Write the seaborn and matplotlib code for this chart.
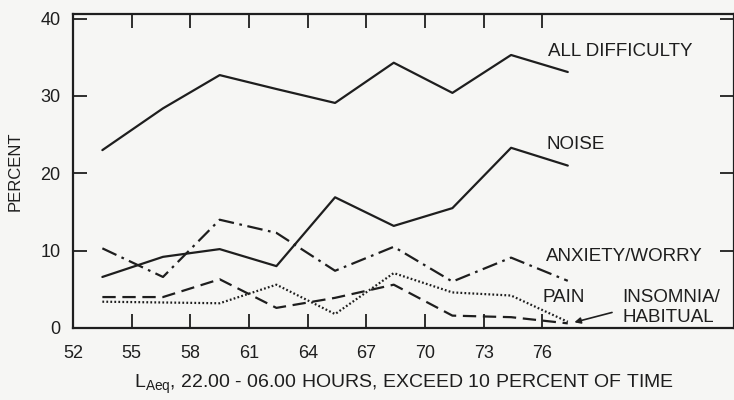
import numpy as np
import pandas as pd
import matplotlib
matplotlib.use("Agg")
import matplotlib.pyplot as plt
import seaborn as sns

# valores
laeq = [53.5, 56.6, 59.5, 62.4, 65.4, 68.4, 71.4, 74.4, 77.3]
all_difficulty = [23.0, 28.4, 32.7, 30.9, 29.1, 34.3, 30.4, 35.3, 33.1]
noise = [6.6, 9.2, 10.2, 8.0, 16.9, 13.2, 15.5, 23.3, 21.0]
anxiety_worry = [10.3, 6.6, 14.0, 12.3, 7.4, 10.5, 6.0, 9.1, 6.1]
pain = [3.4, 3.3, 3.2, 5.6, 1.8, 7.1, 4.6, 4.2, 0.8]
insomnia = [4.0, 4.0, 6.3, 2.6, 3.9, 5.6, 1.6, 1.4, 0.6]
x_ticks = [52, 55, 58, 61, 64, 67, 70, 73, 76]
y_ticks = [0, 10, 20, 30, 40]

series = {
    "ALL DIFFICULTY": all_difficulty,
    "NOISE": noise,
    "ANXIETY/WORRY": anxiety_worry,
    "PAIN": pain,
    "INSOMNIA/HABITUAL": insomnia,
}
df = pd.concat(
    [pd.DataFrame({"laeq": laeq, "percent": v, "serie": k}) for k, v in series.items()],
    ignore_index=True,
)

sns.set_style("ticks")
plt.rcParams["font.family"] = ["Liberation Sans", "DejaVu Sans"]
bg = "#f6f6f4"
ink = "#1e1e1e"

fig = plt.figure(figsize=(7.34, 4.0), dpi=100, facecolor=bg)
ax = fig.add_axes([0.0995, 0.18, 0.9005, 0.785], facecolor=bg)

estilos = {
    "ALL DIFFICULTY": "",
    "NOISE": "",
    "ANXIETY/WORRY": (7, 2.5, 1.2, 2.5),
    "PAIN": (0.8, 1.0),
    "INSOMNIA/HABITUAL": (6, 3),
}
sns.lineplot(data=df, x="laeq", y="percent", style="serie", dashes=estilos,
             color=ink, linewidth=1.6, legend=False, ax=ax)

ax.set_xlim(52, 85.8)
ax.set_ylim(0, 40.6)
ax.set_xticks(x_ticks)
ax.set_yticks(y_ticks)
ax.tick_params(direction="in", length=10, width=1.3, top=True, right=True,
               labelsize=13, colors=ink)
ax.tick_params(axis="x", top=True, labeltop=False, pad=12)
ax.tick_params(axis="y", pad=9)
for s in ax.spines.values():
    s.set_linewidth(1.6)
    s.set_color(ink)

ax.set_ylabel("PERCENT", fontsize=12, color=ink)
ax.yaxis.set_label_coords(-0.077, 0.5)
ax.set_xlabel(r"L$_{\mathregular{Aeq}}$, 22.00 - 06.00 HOURS, EXCEED 10 PERCENT OF TIME",
              fontsize=14, color=ink, labelpad=8)

# rotulos das curvas
kw = dict(fontsize=13.5, color=ink, va="center", ha="left")
ax.text(76.3, 35.7, "ALL DIFFICULTY", **kw)
ax.text(76.2, 23.7, "NOISE", **kw)
ax.text(76.2, 9.3, "ANXIETY/WORRY", **kw)
ax.text(76.0, 3.9, "PAIN", **kw)
ax.text(80.1, 4.0, "INSOMNIA/", **kw)
ax.text(80.1, 1.4, "HABITUAL", **kw)
ax.annotate("", xy=(77.5, 0.65), xytext=(79.7, 2.1),
            arrowprops=dict(arrowstyle="-|>", color=ink, lw=1.2, mutation_scale=9))

fig.savefig("out.png", dpi=100, facecolor=bg)
